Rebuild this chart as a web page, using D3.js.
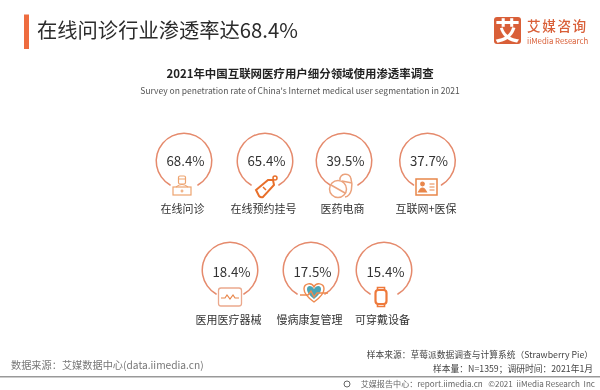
<!DOCTYPE html>
<html>
<head>
<meta charset="utf-8">
<script src="https://cdn.jsdelivr.net/npm/d3@7"></script>
<style>
html, body { margin: 0; padding: 0; background: #fff; }
svg { display: block; filter: blur(0.4px); }
text { font-family: "Noto Sans CJK SC", "Noto Sans", sans-serif; white-space: pre; }
</style>
</head>
<body>
<svg width="600" height="390"></svg>
<script>
var row1Labels = ["在线问诊", "在线预约挂号", "医药电商", "互联网+医保"];
var row1Values = [68.4, 65.4, 39.5, 37.7];
var row1Icons = ["doctor", "tag", "pill", "card"];
var row2Labels = ["医用医疗器械", "慢病康复管理", "可穿戴设备"];
var row2Values = [18.4, 17.5, 15.4];
var row2Icons = ["monitor", "heart", "watch"];

var ring = "#e58a6c";
var svg = d3.select("svg");

// header
svg.append("rect").attr("x", 24).attr("y", 14.5).attr("width", 5).attr("height", 34.5).attr("fill", "#ee6c3f");
svg.append("text").attr("x", 37).attr("y", 38).attr("font-size", 20.3).style("fill", "#2b2b2b").text("在线问诊行业渗透率达68.4%");

// logo
var logo = svg.append("g").attr("transform", "translate(494,17)");
logo.append("rect").attr("width", 27).attr("height", 27).attr("rx", 3).attr("fill", "#d95f38");
logo.append("text").attr("x", 13.5).attr("y", 23).attr("text-anchor", "middle").attr("font-size", 25).attr("font-weight", 700).style("fill", "#fff").text("艾");
logo.append("text").attr("x", 33).attr("y", 14).attr("font-size", 13.6).attr("letter-spacing", 1.6).attr("font-weight", 500).style("fill", "#d95f38").text("艾媒咨询");
logo.append("text").attr("x", 33).attr("y", 27).attr("font-size", 7.8).style("fill", "#d95f38").text("iiMedia Research");

// titles
svg.append("text").attr("x", 300).attr("y", 78).attr("text-anchor", "middle").attr("font-size", 11.45).attr("font-weight", 700).style("fill", "#222").text("2021年中国互联网医疗用户细分领域使用渗透率调查");
svg.append("text").attr("x", 300).attr("y", 94).attr("text-anchor", "middle").attr("font-size", 8.5).style("fill", "#555").text("Survey on penetration rate of China's Internet medical user segmentation in 2021");

var x1 = d3.scaleOrdinal().domain(row1Labels).range([184, 265, 344, 427.5]);
var x2 = d3.scaleOrdinal().domain(row2Labels).range([230, 311, 384]);

var arc = d3.arc().innerRadius(27).outerRadius(28.5)
  .startAngle(Math.PI + 0.5).endAngle(3 * Math.PI - 0.5).cornerRadius(0.7);

var icons = {
  doctor: function(g) {
    g.attr("stroke", "#eda36f").attr("transform", "translate(-2,26)");
    g.append("rect").attr("x", -3.5).attr("y", -11).attr("width", 7).attr("height", 8).attr("rx", 1.5);
    g.append("path").attr("d", "M-3.5,-8H3.5M-6,0Q0,-5 6,0");
    g.append("rect").attr("x", -9).attr("y", 0).attr("width", 18).attr("height", 8);
    g.append("path").attr("d", "M-1.5,4H1.5M0,2.5V5.5");
  },
  tag: function(g) {
    g.attr("stroke", "#e86f2a").attr("transform", "translate(1,26)");
    g.append("path").attr("d", "M-10,3L2,-7L7,-7L8,-2L-3,10Q-5,11 -7,9Z").attr("stroke-width", 2);
    g.append("circle").attr("cx", 9).attr("cy", -9).attr("r", 2).attr("stroke-width", 1.5);
    g.append("path").attr("d", "M-3,0L0,3").attr("stroke-width", 1.5);
  },
  pill: function(g) {
    g.attr("stroke", "#eba27c").attr("transform", "translate(-3,25)").attr("stroke-width", 1.5);
    g.append("circle").attr("cx", -3).attr("cy", 3).attr("r", 8.5);
    g.append("path").attr("d", "M-10,-1L4,7");
    g.append("path").attr("d", "M-1,-6C-2,-13 9,-14 10,-7C12,-1 11,10 4,11");
    g.append("path").attr("d", "M1,-5L11,-3");
  },
  card: function(g) {
    g.attr("stroke", "#e8864a").attr("transform", "translate(-1,26)");
    g.append("rect").attr("x", -10.5).attr("y", -8).attr("width", 21).attr("height", 16).attr("stroke-width", 1.5);
    g.append("circle").attr("cx", -4).attr("cy", -3).attr("r", 1.8).attr("fill", "#e8864a");
    g.append("path").attr("d", "M-8,5Q-4,-3 0,5Z").attr("fill", "#e8864a");
    g.append("path").attr("d", "M3,-3H8M3,0H8M3,3H8");
  },
  monitor: function(g) {
    g.attr("stroke", "#eba98d").attr("transform", "translate(0,27)");
    g.append("rect").attr("x", -11.5).attr("y", -9).attr("width", 23).attr("height", 18).attr("rx", 2.5).attr("stroke-width", 1.3);
    g.append("path").attr("d", "M-9,1H-5L-3,-2L0,2L3,-2L5,1H9").attr("stroke", "#e8864a");
  },
  heart: function(g) {
    g.attr("stroke", "#ee8a50").attr("transform", "translate(3,22)").attr("stroke-width", 1.4);
    g.append("path").attr("d", "M0,7C-5,3 -7,0 -7,-3C-7,-7 -2,-7 0,-3C2,-7 7,-7 7,-3C7,0 5,3 0,7Z").attr("fill", "#4aa5b5").attr("stroke", "none");
    g.append("path").attr("d", "M0,10C-7,5 -10,1 -10,-3C-10,-9 -2,-10 0,-5C2,-10 10,-9 10,-3C10,1 7,5 0,10Z");
    g.append("path").attr("d", "M-14,3H-6L-3,-1L0,5L3,1H14");
  },
  watch: function(g) {
    g.attr("stroke", "#ee7a3c").attr("transform", "translate(-3,27)");
    g.append("path").attr("d", "M-3.5,-7V-9.5H3.5V-7M-3.5,7V9.5H3.5V7").attr("stroke-width", 1.6);
    g.append("rect").attr("x", -5.5).attr("y", -7).attr("width", 11).attr("height", 14).attr("rx", 3).attr("stroke-width", 2.2);
  }
};

function drawRow(labels, values, iconNames, x, cy, pctY, labelY) {
  var cell = svg.append("g").selectAll("g")
    .data(labels)
    .join("g")
    .attr("transform", function(d) { return "translate(" + x(d) + "," + cy + ")"; });

  cell.append("path").attr("d", arc()).attr("fill", ring);

  cell.append("text")
    .attr("text-anchor", "middle")
    .attr("x", 1.5)
    .attr("y", pctY)
    .attr("font-size", 13.3)
    .style("fill", "#333")
    .text(function(d, i) { return values[i].toFixed(1) + "%"; });

  cell.append("g")
    .attr("fill", "none")
    .attr("stroke-width", 1.2)
    .each(function(d, i) { icons[iconNames[i]](d3.select(this)); });

  cell.append("text")
    .attr("text-anchor", "middle")
    .attr("x", -1.5)
    .attr("y", labelY)
    .attr("font-size", 11)
    .style("fill", "#333")
    .text(function(d) { return d; });
}

drawRow(row1Labels, row1Values, row1Icons, x1, 161, 4.5, 52);
drawRow(row2Labels, row2Values, row2Icons, x2, 270, 6.5, 54);

// footer
svg.append("text").attr("x", 11).attr("y", 369).attr("font-size", 10.2).style("fill", "#777").text("数据来源：艾媒数据中心(data.iimedia.cn)");
svg.append("text").attr("x", 593).attr("y", 358).attr("text-anchor", "end").attr("font-size", 8.75).style("fill", "#444").text("样本来源：草莓派数据调查与计算系统（Strawberry Pie）");
svg.append("text").attr("x", 593).attr("y", 372).attr("text-anchor", "end").attr("font-size", 8.75).style("fill", "#444").text("样本量：N=1359；调研时间：2021年1月");
svg.append("rect").attr("x", 0).attr("y", 376).attr("width", 600).attr("height", 1.5).attr("fill", "#999");
svg.append("text").attr("x", 595).attr("y", 386.5).attr("text-anchor", "end").attr("font-size", 8.1).style("fill", "#666").text("艾媒报告中心：report.iimedia.cn   ©2021  iiMedia Research  Inc");
svg.append("circle").attr("cx", 347).attr("cy", 384).attr("r", 3).attr("fill", "none").attr("stroke", "#666");
</script>
</body>
</html>
